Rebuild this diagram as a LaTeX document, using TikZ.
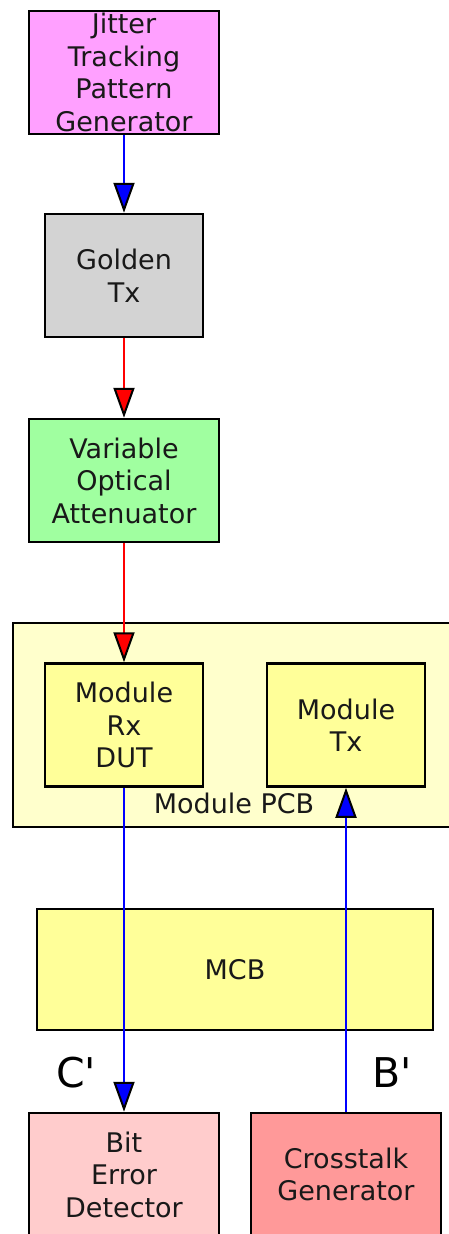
\documentclass[tikz,border=0pt]{standalone}
\usepackage{fontspec}
\setmainfont{DejaVu Sans}
\usetikzlibrary{arrows.meta}
\definecolor{cjit}{HTML}{FFA0FF}
\definecolor{cgold}{HTML}{D3D3D3}
\definecolor{cvoa}{HTML}{A0FFA0}
\definecolor{cpcb}{HTML}{FFFFCC}
\definecolor{cmod}{HTML}{FFFF99}
\definecolor{cbed}{HTML}{FFCCCC}
\definecolor{cxt}{HTML}{FF9999}
\definecolor{eblue}{HTML}{0000FF}
\definecolor{ered}{HTML}{FF0000}
\begin{document}
\begin{tikzpicture}[x=1pt,y=-1pt,
  blk/.style={draw=black, line width=2.5pt, inner sep=0pt, align=center,
    font=\fontsize{27}{32.5}\selectfont, text=black!90},
  wbox/.style={blk, minimum width=190pt, minimum height=123pt},
  nbox/.style={blk, minimum width=158pt, minimum height=123pt},
  blueedge/.style={draw=eblue, line width=2.2pt,
    -{Triangle[length=30pt,width=21pt,color=black,fill=eblue,line width=2pt]}},
  rededge/.style={draw=ered, line width=2.2pt,
    -{Triangle[length=30pt,width=21pt,color=black,fill=ered,line width=2pt]}},
  bigtxt/.style={font=\fontsize{41}{45}\selectfont, text=black}
]
\useasboundingbox (0,0) rectangle (449,1234);
% cluster
\draw[fill=cpcb, line width=2.5pt] (13,623) rectangle (470,827);
\node[font=\fontsize{27}{32.5}\selectfont, text=black!90, anchor=base] (pcblbl) at (234,813) {Module PCB};
% nodes
\node[wbox, fill=cjit] (jtpg) at (124,72.5) {Jitter\\Tracking\\Pattern\\Generator};
\node[nbox, fill=cgold] (gold) at (124,275.5) {Golden\\Tx};
\node[wbox, fill=cvoa] (voa) at (124,480.5) {Variable\\Optical\\Attenuator};
\node[nbox, fill=cmod] (rx) at (124,725) {Module\\Rx\\DUT};
\node[nbox, fill=cmod] (tx) at (346,725) {Module\\Tx};
\node[blk, fill=cmod, minimum width=396pt, minimum height=121pt] (mcb) at (235,969.5) {MCB};
\node[wbox, fill=cbed] (bed) at (124,1174.5) {Bit\\Error\\Detector};
\node[wbox, fill=cxt] (xt) at (346,1174.5) {Crosstalk\\Generator};
% edges
\draw[blueedge] (jtpg) -- (gold);
\draw[rededge] (gold) -- (voa);
\draw[rededge] (voa) -- (rx);
\draw[blueedge] (rx) -- (bed);
\draw[blueedge] (xt) -- (tx);
% labels
\node[bigtxt] (cl) at (76,1073) {C\textquotesingle};
\node[bigtxt] (bl) at (392,1073) {B\textquotesingle};
\end{tikzpicture}
\end{document}
